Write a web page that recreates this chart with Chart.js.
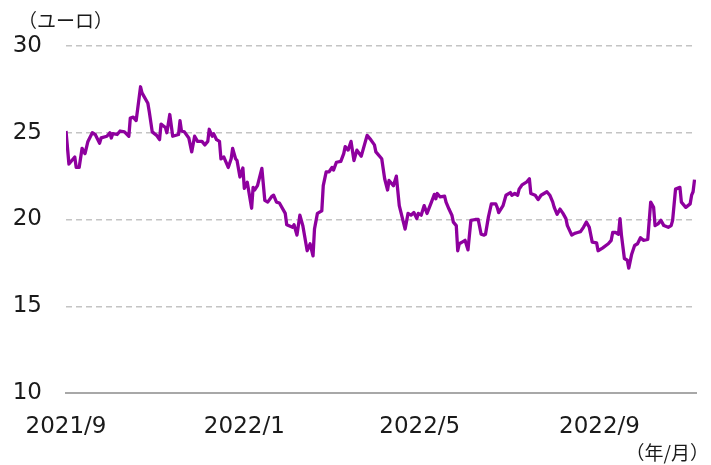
<!DOCTYPE html>
<html>
<head>
<meta charset="utf-8">
<script src="https://cdn.jsdelivr.net/npm/chart.js@4"></script>
<style>
  body { margin: 0; background: #fff; }
  #wrap { position: relative; width: 711px; height: 465px; }
  .unit { position: absolute; font-family: "Noto Sans CJK JP", sans-serif; font-size: 19px; color: #1a1a1a; line-height: 1; white-space: nowrap; }
</style>
</head>
<body>
<div id="wrap">
  <canvas id="priceChart" width="711" height="465"></canvas>
  <div class="unit" style="left:18px; top:10px;">（ユーロ）</div>
  <div class="unit" style="right:2px; top:442px;">（年/月）</div>
</div>
<script>
// days since 2021/9/1
const days = [
  0,2,4,6,7,9,11,13,15,18,
  20,23,24,28,30,31,32,35,37,40,
  43,44,46,48,51,52,56,57,59,62,
  64,65,68,69,71,73,77,78,79,81,
  84,86,88,90,93,95,97,98,100,101,
  103,105,106,108,111,113,114,116,117,119,
  121,122,124,127,128,129,131,134,136,138,
  141,142,144,146,150,151,155,156,158,160,
  162,165,167,169,170,172,175,176,178,180,
  182,183,185,188,190,191,193,195,197,199,
  202,206,208,211,212,216,218,220,221,224,
  226,228,232,234,236,238,240,241,243,245,
  247,250,252,253,254,256,259,260,262,264,
  265,267,268,269,271,273,275,277,280,282,
  284,286,287,289,291,294,295,296,299,301,
  304,305,307,309,310,312,315,317,318,321,
  323,325,329,331,333,334,336,338,340,342,
  343,346,348,350,352,354,356,358,360,363,
  364,367,371,373,374,376,378,379,380,382,
  384,385,387,389,391,393,395,398,400,402,
  403,405,407,409,412,414,415,417,420,421,
  424,427,428,429,430
];

// price (EUR)
const prices = [
  25.1,23.2,23.4,23.6,23.0,23.0,24.1,23.8,24.5,25.0,
  24.9,24.4,24.7,24.8,25.0,24.7,24.95,24.9,25.1,25.05,
  24.8,25.85,25.9,25.7,27.65,27.3,26.7,26.2,25.05,24.85,
  24.6,25.5,25.3,25.0,26.05,24.8,24.9,25.7,25.1,25.05,
  24.7,23.9,24.8,24.5,24.5,24.3,24.5,25.2,24.8,24.95,
  24.6,24.5,23.5,23.6,23.0,23.5,24.1,23.5,23.4,22.45,
  22.97,21.8,22.15,20.65,21.85,21.7,21.95,22.95,21.1,21.0,
  21.35,21.4,21.0,20.95,20.35,19.7,19.55,19.7,19.1,20.25,
  19.65,18.2,18.6,17.9,19.45,20.35,20.5,21.95,22.75,22.75,
  23.0,22.85,23.3,23.35,23.8,24.2,24.0,24.5,23.4,24.0,
  23.65,24.85,24.65,24.3,23.9,23.5,22.35,21.7,22.25,21.95,
  22.5,20.8,19.45,20.35,20.25,20.4,20.05,20.35,20.25,20.8,
  20.35,21.0,21.45,21.2,21.5,21.3,21.35,21.0,20.6,20.25,
  19.85,19.65,18.2,18.6,18.7,18.8,18.25,19.95,20.0,20.0,
  19.15,19.1,19.15,20.15,20.9,20.9,20.7,20.4,20.8,21.4,
  21.55,21.4,21.5,21.4,21.75,22.0,22.15,22.35,21.5,21.4,
  21.15,21.4,21.6,21.4,21.0,20.7,20.3,20.6,20.35,20.05,
  19.65,19.1,19.2,19.25,19.3,19.55,19.85,19.55,18.7,18.65,
  18.2,18.35,18.6,18.8,19.25,19.25,19.15,20.05,19.1,17.75,
  17.65,17.2,18.0,18.5,18.6,18.95,18.8,18.85,21.0,20.7,
  19.65,19.75,19.95,19.65,19.55,19.65,19.95,21.75,21.85,21.0,
  20.7,20.9,21.4,21.6,22.3
];

const tickDays = [0, 122, 242, 365];
const tickLabels = ['2021/9', '2022/1', '2022/5', '2022/9'];
const yTicks = [10, 15, 20, 25, 30];

const points = days.map((d, i) => ({ x: d, y: prices[i] }));
const font = { family: '"DejaVu Sans", Verdana, sans-serif', size: 23 };

new Chart(document.getElementById('priceChart'), {
  type: 'line',
  data: {
    datasets: [{
      data: points,
      borderColor: '#8e009e',
      borderWidth: 3.3,
      pointRadius: 0,
      tension: 0,
      borderJoinStyle: 'round'
    }]
  },
  options: {
    responsive: false,
    animation: false,
    layout: { padding: { left: 0, top: 46, right: 15, bottom: 0 } },
    plugins: { legend: { display: false }, tooltip: { enabled: false } },
    scales: {
      x: {
        type: 'linear',
        min: 0,
        max: 431,
        afterBuildTicks: s => { s.ticks = tickDays.map(v => ({ value: v })); },
        afterFit: s => { s.height = 72; },
        ticks: {
          autoSkip: false,
          maxRotation: 0,
          padding: 20,
          color: '#1a1a1a',
          font,
          callback: v => tickLabels[tickDays.indexOf(v)]
        },
        grid: { display: false, drawTicks: false },
        border: { display: true, color: '#a8a8a8', width: 2 }
      },
      y: {
        min: 10,
        max: 30,
        afterBuildTicks: s => { s.ticks = yTicks.map(v => ({ value: v })); },
        afterFit: s => { s.width = 66; },
        ticks: { padding: 24, color: '#1a1a1a', font },
        grid: {
          drawTicks: false,
          lineWidth: 1.5,
          color: ctx => ctx.tick && ctx.tick.value === 10 ? 'rgba(0,0,0,0)' : '#c4c4c4'
        },
        border: { display: false, dash: [6, 4] }
      }
    }
  }
});
</script>
</body>
</html>
